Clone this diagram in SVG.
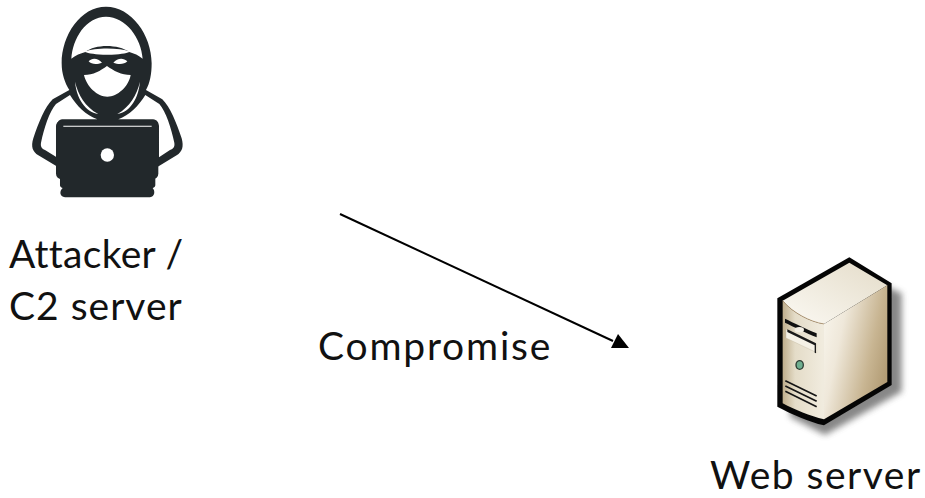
<svg xmlns="http://www.w3.org/2000/svg" width="925" height="498" viewBox="0 0 925 498">
<style>
.label{font-family:"Lato","Open Sans","Liberation Sans",sans-serif;font-size:39px;fill:#111}
.ink{fill:#22282b}
.paper{fill:#fff}
</style>
<defs>
<filter id="soft" x="-20%" y="-20%" width="140%" height="140%"><feGaussianBlur stdDeviation="9"/></filter>
<linearGradient id="side" x1="0" y1="0.15" x2="1" y2="0.6"><stop offset="0" stop-color="#f8f5ec"/><stop offset="0.3" stop-color="#efe8da"/><stop offset="0.75" stop-color="#c8b592"/><stop offset="1" stop-color="#b39d76"/></linearGradient>
<linearGradient id="front" x1="0" y1="0" x2="1" y2="0"><stop offset="0" stop-color="#bfae8c"/><stop offset="0.3" stop-color="#e4dcc8"/><stop offset="1" stop-color="#f1ecdf"/></linearGradient>
<linearGradient id="top" x1="0" y1="1" x2="1" y2="0"><stop offset="0" stop-color="#fbf9f3"/><stop offset="1" stop-color="#e4dcc9"/></linearGradient>
</defs>
<g id="attacker" transform="translate(10,0) scale(0.3333)">
<path class="ink" d="M288 20C212 20 155 105 155 190C155 222 165 250 178 270L128 298C105 320 85 370 70 415C62 440 68 456 85 466L150 505V555C150 560 152 562 158 564C148 572 148 590 165 592H420C435 590 436 572 428 564C434 562 436 560 436 555V505L500 466C517 456 522 440 515 415C500 370 480 320 457 298L408 270C420 250 425 222 425 190C425 105 364 20 288 20Z"/>
<path class="paper" d="M288 50C228 50 188 115 184 176C196 166 212 160 226 156C255 132 325 132 358 156C372 160 386 166 398 176C394 115 348 50 288 50Z"/>
<path class="paper" d="M222 155C258 142 325 142 362 155C345 160 330 164 292 164C255 164 238 160 222 155Z"/>
<path class="paper" d="M222 225C250 225 272 212 291 198C310 212 335 225 362 225C356 260 322 290 292 290C262 290 230 260 222 225Z"/>
<path class="paper" d="M236 184C246 172 264 174 276 188C260 195 244 193 236 184ZM310 188C322 174 340 172 352 184C344 193 326 195 310 188Z"/>
<path class="paper" d="M195 245C205 285 225 320 265 342C225 335 200 295 195 245ZM390 245C380 285 360 320 322 342C362 335 385 295 390 245Z"/>
<path class="paper" d="M180 285L138 312C118 335 102 385 93 428C91 440 96 446 105 450L140 472V378C142 362 150 358 160 358H262C228 345 200 318 180 285Z"/>
<path class="paper" d="M406 285L448 312C468 335 484 385 493 428C495 440 490 446 480 450L447 472V378C445 362 437 358 425 358H325C358 345 386 318 406 285Z"/>
<rect class="ink" x="138" y="362" width="307" height="175" rx="16"/>
<path class="paper" d="M160 377H425V380H160Z"/>
<circle class="paper" cx="292" cy="465" r="20"/>
</g>
<g id="web-server" transform="translate(750,250) scale(0.3333)">
<path d="M300 60L120 165V500L225 555L455 425V130Z" fill="#555" opacity="0.7" filter="url(#soft)"/>
<path d="M298 22L82 145V470C130 495 175 515 222 526L425 405V100Z" fill="#050505"/>
<path fill="url(#top)" d="M298 38L98 152C130 190 180 215 222 222L412 106Z"/>
<path fill="url(#front)" d="M98 152C130 190 180 215 222 222V508C180 498 135 480 98 460Z"/>
<path fill="url(#side)" d="M222 222L412 106V396L222 508Z"/>
<path fill="none" stroke="#a98a5f" stroke-width="2" d="M98 152C130 190 180 215 222 222"/>
<path fill="#111" d="M105 206C130 218 170 238 200 250L200 262C170 250 130 230 105 218Z"/>
<path fill="#f5f1e6" stroke="#b9ad93" d="M108 238L200 282V308L108 264Z"/>
<path fill="#1a1a1a" d="M112 238L198 280V310L194 308V286L112 246Z"/>
<ellipse cx="148" cy="239" rx="14" ry="8" fill="#f3efe4"/>
<ellipse cx="149" cy="345" rx="13" ry="15" fill="#2c3b33"/>
<ellipse cx="149" cy="345" rx="9" ry="11" fill="#6fae8f"/>
<path fill="none" stroke="#151515" stroke-width="5" d="M106 392L200 438M106 408L200 454M106 424L200 470"/>
</g>
<g id="connectors">
<path d="M340 214L613 341" stroke="#000" stroke-width="2" fill="none"/>
<polygon points="618,334 629,348 611,348" fill="#000"/>
</g>
<g id="labels">
<text class="label" x="9" y="268" letter-spacing="0.3">Attacker /</text>
<text class="label" x="9" y="320" letter-spacing="1">C2 server</text>
<text class="label" x="318" y="360" letter-spacing="1.8">Compromise</text>
<text class="label" x="710" y="489" letter-spacing="1.5">Web server</text>
</g>
</svg>
